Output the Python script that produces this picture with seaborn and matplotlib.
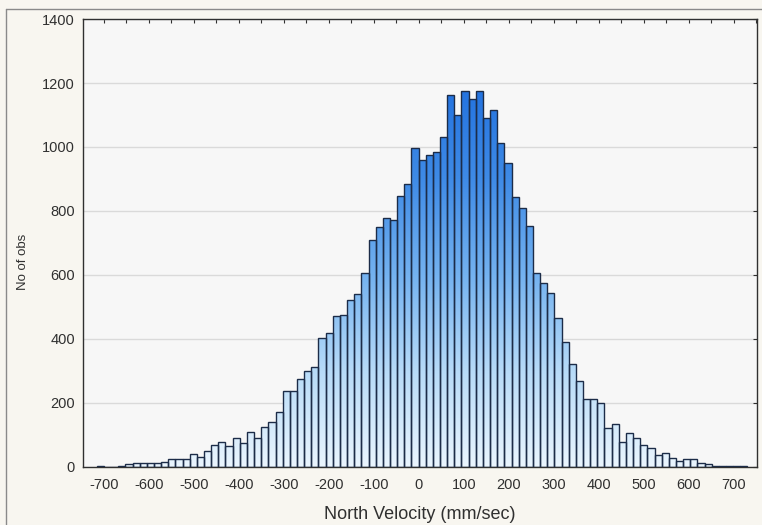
import matplotlib
matplotlib.use("Agg")
import matplotlib.pyplot as plt
from matplotlib.path import Path
from matplotlib.colors import LinearSegmentedColormap
from matplotlib.lines import Line2D
from matplotlib.ticker import MultipleLocator
import numpy as np
import pandas as pd
import seaborn as sns

# histogram data
bin_start = -716.0
bin_width = 15.9
counts = [4, 0, 1, 4, 8, 11, 13, 13, 14, 16, 24, 24, 26, 40, 30, 51, 70, 77, 65, 91,
          76, 108, 90, 126, 140, 173, 238, 236, 275, 300, 311, 402, 418, 473, 475, 522,
          541, 607, 709, 751, 779, 772, 848, 883, 996, 959, 975, 985, 1032, 1163, 1100,
          1175, 1149, 1175, 1090, 1116, 1014, 949, 845, 808, 753, 607, 576, 545, 465, 390,
          321, 269, 212, 212, 201, 123, 134, 79, 106, 90, 69, 60, 37, 45, 27, 20, 24, 24,
          13, 8, 4, 3, 3, 4, 3]
x_ticks = list(range(-700, 701, 100))
y_ticks = list(range(0, 1401, 200))

edges = [bin_start + bin_width * i for i in range(len(counts) + 1)]
centers = [(a + b) / 2 for a, b in zip(edges[:-1], edges[1:])]
df = pd.DataFrame({"velocity": centers, "n": counts})

sns.set_style("white")
plt.rcParams["font.family"] = ["Liberation Sans", "DejaVu Sans"]
plt.rcParams["axes.unicode_minus"] = False

fig = plt.figure(figsize=(7.62, 5.25), dpi=100, facecolor="#f8f6f0")
ax = fig.add_axes([0.1093, 0.1105, 0.8841, 0.8533])
ax.set_facecolor("#f7f7f7")

sns.histplot(data=df, x="velocity", weights="n", bins=edges, ax=ax,
             edgecolor="#1c2c48", linewidth=1.0)

bars = list(ax.patches)
for b in bars:
    b.set_facecolor("none")
    b.set_zorder(3)

xlim = (-746, 752)
# vertical gradient, clipped to the bars
cmap = LinearSegmentedColormap.from_list(
    "vel", ["#eaf5fe", "#b7dbf8", "#74b2f0", "#3f8be6", "#2272e0"])
grad = np.linspace(0, 1, 256).reshape(-1, 1)
im = ax.imshow(grad, extent=[xlim[0], xlim[1], 0, 1200], origin="lower",
               aspect="auto", cmap=cmap, zorder=2, interpolation="bilinear")
paths = [b.get_path().transformed(b.get_patch_transform()) for b in bars]
im.set_clip_path(Path.make_compound_path(*paths), ax.transData)

ax.set_xlim(*xlim)
ax.set_ylim(0, 1400)
ax.set_xticks(x_ticks)
ax.set_yticks(y_ticks)
ax.xaxis.set_minor_locator(MultipleLocator(50))
ax.tick_params(axis="both", which="both", direction="in", length=3, width=0.8,
               color="#303030", top=True, right=True, labelsize=10.5,
               labelcolor="#303030")
ax.tick_params(axis="x", which="major", pad=8)
ax.tick_params(axis="y", which="major", pad=6)

ax.yaxis.grid(True, color="#dadada", linewidth=1.0)
ax.set_axisbelow(True)
for s in ax.spines.values():
    s.set_color("#303030")
    s.set_linewidth(1.0)

ax.set_xlabel("North Velocity (mm/sec)", fontsize=13, color="#303030")
ax.set_ylabel("No of obs", fontsize=9.5, color="#303030")
ax.xaxis.set_label_coords(0.5, -0.088)
ax.yaxis.set_label_coords(-0.08, 0.458)

# outer frame of the picture (only top and left edges show)
top_y = 1 - 9 / 525
left_x = 6 / 762
fig.lines.append(Line2D([left_x, left_x], [0, top_y], transform=fig.transFigure,
                        color="#8a8a8a", linewidth=1.0))
fig.lines.append(Line2D([left_x, 1], [top_y, top_y], transform=fig.transFigure,
                        color="#8a8a8a", linewidth=1.0))

fig.savefig("out.png", dpi=100, facecolor=fig.get_facecolor())
